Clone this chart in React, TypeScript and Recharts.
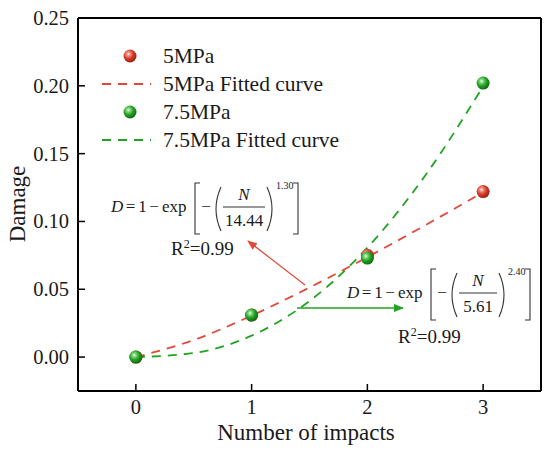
import React from 'react'
import { ComposedChart, Line, Scatter, XAxis, YAxis, Legend, ReferenceLine } from 'recharts'

// measured points
const impacts = [0, 1, 2, 3]
const damage5 = [0, 0.031, 0.075, 0.122]
const damage75 = [0, 0.031, 0.073, 0.202]

// fitted curves
const fitN = [0, 0.5, 1, 1.5, 2, 2.5, 3]
const fit5 = [0, 0.0126, 0.0306, 0.0513, 0.0737, 0.0972, 0.1216]
const fit75 = [0, 0.003, 0.0158, 0.0413, 0.0807, 0.1339, 0.1996]

const xTicks = [0, 1, 2, 3]
const yTicks = [0, 0.05, 0.1, 0.15, 0.2, 0.25]

const FONT = '"Liberation Serif", "Times New Roman", serif'
const RED = '#e2483a'
const GREEN = '#22a322'
const INK = '#1a1a1a'

const pts5 = impacts.map((n, i) => ({ n, d: damage5[i] }))
const pts75 = impacts.map((n, i) => ({ n, d: damage75[i] }))
const curve5 = fitN.map((n, i) => ({ n, d: fit5[i] }))
const curve75 = fitN.map((n, i) => ({ n, d: fit75[i] }))

function Ball({ cx, cy, grad }: { cx: number; cy: number; grad: string }) {
  return <circle cx={cx} cy={cy} r={6.5} fill={`url(#${grad})`} />
}

function T(props: any) {
  return <text fontFamily={FONT} fontSize={17} fill={INK} {...props} />
}

function YTick(props: any) {
  const { x, y, payload } = props
  return (
    <g>
      <line x1={x + 8} x2={x + 15} y1={y} y2={y} stroke="#000" strokeWidth={1.5} />
      <T x={x - 1} y={y} dy={7} textAnchor="end" fontSize={20.5}>
        {payload.value.toFixed(2)}
      </T>
    </g>
  )
}

function XTick(props: any) {
  const { x, y, payload } = props
  return (
    <g>
      <line x1={x} x2={x} y1={y} y2={y - 7} stroke="#000" strokeWidth={1.5} />
      <T x={x} y={y} dy={23} textAnchor="middle" fontSize={20.5}>
        {payload.value}
      </T>
    </g>
  )
}

function LegendBox(props: any) {
  const { payload } = props
  return (
    <div style={{ fontFamily: FONT, fontSize: 21.5, color: INK }}>
      {payload.map((item: any) => (
        <div key={item.value} style={{ height: 28, display: 'flex', alignItems: 'center' }}>
          <svg width={50} height={28}>
            {item.type === 'circle' ? (
              <Ball cx={28} cy={14} grad={item.color === RED ? 'redBall' : 'greenBall'} />
            ) : (
              <line x1={0} x2={49} y1={14} y2={14} stroke={item.color} strokeWidth={1.8} strokeDasharray="9 7" />
            )}
          </svg>
          <span style={{ marginLeft: 11, whiteSpace: 'nowrap' }}>{item.value}</span>
        </div>
      ))}
    </div>
  )
}

// formula D = 1 - exp[-(N/a)^b], placed by the baseline of "D"
function Formula({ x, y, den, exp, barW }: any) {
  const barStart = 112
  const barEnd = barStart + barW
  const top = -29
  const bot = 22
  const rb = barEnd + 33
  return (
    <g transform={`translate(${x},${y})`}>
      <T x={0} y={0} fontStyle="italic">D</T>
      <T x={19.5} y={0} textAnchor="middle">=</T>
      <T x={31.5} y={0} textAnchor="middle">1</T>
      <T x={43} y={0} textAnchor="middle">−</T>
      <T x={51} y={0}>exp</T>
      <path d={`M 89 ${top} H 84 V ${bot} H 89`} fill="none" stroke="#333" strokeWidth={1.1} />
      <T x={95} y={0} textAnchor="middle">−</T>
      <path d={`M ${barStart - 2} -25 Q ${barStart - 12} -3 ${barStart - 2} 19`} fill="none" stroke="#333" strokeWidth={1.1} />
      <T x={barStart + barW / 2} y={-12} fontStyle="italic" textAnchor="middle">N</T>
      <line x1={barStart} x2={barEnd} y1={-5} y2={-5} stroke="#333" strokeWidth={1} />
      <T x={barStart + barW / 2} y={14} textAnchor="middle">{den}</T>
      <path d={`M ${barEnd + 2} -25 Q ${barEnd + 12} -3 ${barEnd + 2} 19`} fill="none" stroke="#333" strokeWidth={1.1} />
      <T x={barEnd + 11} y={-23} fontSize={10}>{exp}</T>
      <path d={`M ${rb - 5} ${top} H ${rb} V ${bot} H ${rb - 5}`} fill="none" stroke="#333" strokeWidth={1.1} />
    </g>
  )
}

function R2({ x, y }: { x: number; y: number }) {
  return (
    <T x={x} y={y} fontSize={19}>
      R<tspan fontSize={12} dy={-7}>2</tspan>
      <tspan dy={7}>=0.99</tspan>
    </T>
  )
}

export default function App() {
  return (
    <div style={{ position: 'absolute', left: 0, top: 0, width: 550, height: 450, background: '#fff' }}>
      <svg width={0} height={0} style={{ position: 'absolute' }}>
        <defs>
          <radialGradient id="redBall" cx="38%" cy="35%" r="65%">
            <stop offset="0%" stopColor="#ffffff" />
            <stop offset="18%" stopColor="#f29a8c" />
            <stop offset="55%" stopColor="#d83c2b" />
            <stop offset="100%" stopColor="#9c2012" />
          </radialGradient>
          <radialGradient id="greenBall" cx="38%" cy="35%" r="65%">
            <stop offset="0%" stopColor="#ffffff" />
            <stop offset="18%" stopColor="#8fdc8a" />
            <stop offset="55%" stopColor="#24a424" />
            <stop offset="100%" stopColor="#0f6b10" />
          </radialGradient>
          <marker id="arrowRed" markerWidth={10} markerHeight={8} refX={9} refY={4} orient="auto" markerUnits="userSpaceOnUse">
            <path d="M0,0 L10,4 L0,8 Z" fill={RED} />
          </marker>
          <marker id="arrowGreen" markerWidth={10} markerHeight={8} refX={9} refY={4} orient="auto" markerUnits="userSpaceOnUse">
            <path d="M0,0 L10,4 L0,8 Z" fill={GREEN} />
          </marker>
        </defs>
      </svg>
      <ComposedChart width={550} height={450} margin={{ top: 18, right: 9, bottom: 58, left: 77 }}>
        <XAxis
          dataKey="n"
          type="number"
          domain={[-0.5, 3.5]}
          ticks={xTicks}
          height={1}
          tickSize={0}
          tickMargin={0}
          tickLine={false}
          tick={<XTick />}
          axisLine={{ stroke: '#000', strokeWidth: 2 }}
          allowDataOverflow
        />
        <YAxis
          type="number"
          domain={[-0.025, 0.25]}
          ticks={yTicks}
          width={1}
          tickSize={0}
          tickMargin={8}
          tickLine={false}
          tick={<YTick />}
          axisLine={{ stroke: '#000', strokeWidth: 2 }}
          allowDataOverflow
        />
        <ReferenceLine y={0.25} stroke="#000" strokeWidth={2} />
        <ReferenceLine x={3.5} stroke="#000" strokeWidth={2} />
        <Legend
          layout="vertical"
          align="center"
          verticalAlign="middle"
          content={<LegendBox />}
          wrapperStyle={{ left: 102, top: 42, width: 300 }}
        />
        <Line
          data={curve5}
          dataKey="d"
          name="5MPa Fitted curve"
          type="monotone"
          stroke={RED}
          strokeWidth={1.8}
          strokeDasharray="9 7"
          dot={false}
          legendType="plainline"
          isAnimationActive={false}
        />
        <Line
          data={curve75}
          dataKey="d"
          name="7.5MPa Fitted curve"
          type="monotone"
          stroke={GREEN}
          strokeWidth={1.8}
          strokeDasharray="9 7"
          dot={false}
          legendType="plainline"
          isAnimationActive={false}
        />
        <Scatter
          data={pts5}
          dataKey="d"
          name="5MPa"
          fill={RED}
          legendType="circle"
          shape={(p: any) => <Ball cx={p.cx} cy={p.cy} grad="redBall" />}
          isAnimationActive={false}
        />
        <Scatter
          data={pts75}
          dataKey="d"
          name="7.5MPa"
          fill={GREEN}
          legendType="circle"
          shape={(p: any) => <Ball cx={p.cx} cy={p.cy} grad="greenBall" />}
          isAnimationActive={false}
        />
        <T x={25} y={204} transform="rotate(-90 25 204)" textAnchor="middle" fontSize={23}>
          Damage
        </T>
        <T x={306} y={440} textAnchor="middle" fontSize={23}>
          Number of impacts
        </T>
        <Formula x={111} y={212} den="14.44" exp="1.30" barW={42} />
        <R2 x={171} y={255} />
        <Formula x={347} y={298} den="5.61" exp="2.40" barW={38} />
        <R2 x={398} y={343} />
        <line x1={305} y1={285} x2={248} y2={241} stroke={RED} strokeWidth={1.2} markerEnd="url(#arrowRed)" />
        <line x1={297} y1={308} x2={403} y2={308} stroke={GREEN} strokeWidth={1.5} markerEnd="url(#arrowGreen)" />
      </ComposedChart>
    </div>
  )
}
